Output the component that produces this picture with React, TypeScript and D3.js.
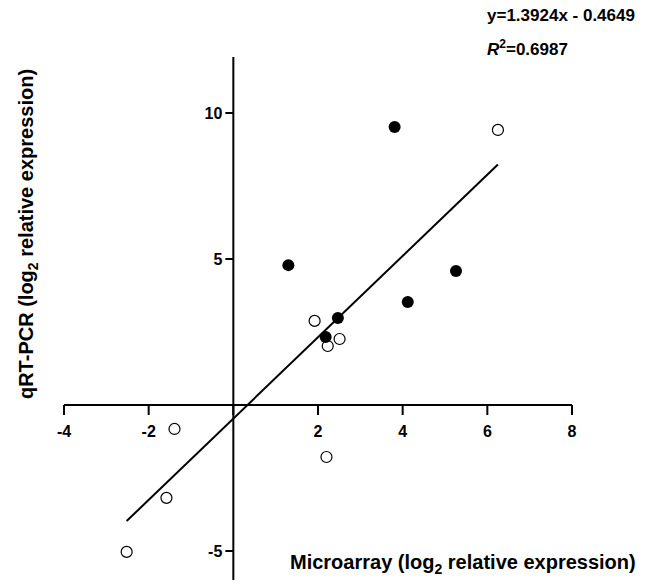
import React, { useEffect, useRef } from "react";
import * as d3 from "d3";

// filled circles
const filledX = [3.81, 1.3, 5.26, 4.12, 2.47, 2.18];
const filledY = [9.52, 4.79, 4.59, 3.53, 2.98, 2.33];

// open circles
const openX = [6.25, 1.92, 2.51, 2.23, -1.39, 2.2, -1.58, -2.52];
const openY = [9.42, 2.88, 2.26, 2.02, -0.82, -1.78, -3.18, -5.03];

const xTicks = [-4, -2, 2, 4, 6, 8];
const yTicks = [10, 5, -5];

const slope = 1.3924;
const intercept = -0.4649;
const r2Text = "=0.6987";

const FONT = "Arial, 'Liberation Sans', sans-serif";

const App = () => {
  const ref = useRef<SVGSVGElement>(null);

  useEffect(() => {
    const svg = d3.select(ref.current);
    svg.selectAll("*").remove();

    const x = d3.scaleLinear().domain([-4, 8]).range([64, 572]);
    const y = d3.scaleLinear().domain([-5, 10]).range([551, 113]);

    const g = svg.append("g");

    // x axis through y=0
    const xAxis = g.append("g").attr("transform", `translate(0,${y(0)})`);
    xAxis
      .append("line")
      .attr("x1", x(-4))
      .attr("x2", x(8))
      .attr("stroke", "#000")
      .attr("stroke-width", 2);
    xAxis
      .selectAll(".xt")
      .data([...xTicks, 0])
      .enter()
      .append("line")
      .attr("x1", (d) => x(d))
      .attr("x2", (d) => x(d))
      .attr("y1", 0)
      .attr("y2", 10)
      .attr("stroke", "#000")
      .attr("stroke-width", 2);
    xAxis
      .selectAll(".xl")
      .data(xTicks)
      .enter()
      .append("text")
      .attr("x", (d) => x(d))
      .attr("y", 32)
      .attr("text-anchor", "middle")
      .style("font-family", FONT)
      .style("font-weight", "bold")
      .style("font-size", "16px")
      .text((d) => d);

    // y axis through x=0
    const yAxis = g.append("g").attr("transform", `translate(${x(0)},0)`);
    yAxis
      .append("line")
      .attr("y1", 57)
      .attr("y2", 580)
      .attr("stroke", "#000")
      .attr("stroke-width", 2);
    yAxis
      .selectAll(".yt")
      .data(yTicks)
      .enter()
      .append("line")
      .attr("x1", -8)
      .attr("x2", 0)
      .attr("y1", (d) => y(d))
      .attr("y2", (d) => y(d))
      .attr("stroke", "#000")
      .attr("stroke-width", 2);
    yAxis
      .selectAll(".yl")
      .data(yTicks)
      .enter()
      .append("text")
      .attr("x", -11)
      .attr("y", (d) => y(d) + 6)
      .attr("text-anchor", "end")
      .style("font-family", FONT)
      .style("font-weight", "bold")
      .style("font-size", "16px")
      .text((d) => d);

    // regression line over data range
    const allX = [...filledX, ...openX];
    const [minX, maxX] = d3.extent(allX) as [number, number];
    const line = d3
      .line<number>()
      .x((d) => x(d))
      .y((d) => y(slope * d + intercept));
    g.append("path")
      .attr("d", line([minX, maxX]))
      .attr("fill", "none")
      .attr("stroke", "#000")
      .attr("stroke-width", 2);

    // points
    g.selectAll(".open")
      .data(openX.map((v, i) => [v, openY[i]]))
      .enter()
      .append("circle")
      .attr("cx", (d) => x(d[0]))
      .attr("cy", (d) => y(d[1]))
      .attr("r", 5.5)
      .attr("fill", "#fff")
      .attr("stroke", "#000")
      .attr("stroke-width", 1.2);

    g.selectAll(".filled")
      .data(filledX.map((v, i) => [v, filledY[i]]))
      .enter()
      .append("circle")
      .attr("cx", (d) => x(d[0]))
      .attr("cy", (d) => y(d[1]))
      .attr("r", 6)
      .attr("fill", "#000");

    // equation text
    g.append("text")
      .attr("x", 487)
      .attr("y", 21)
      .style("font-family", FONT)
      .style("font-weight", "bold")
      .style("font-size", "17px")
      .text(`y=${slope}x - ${Math.abs(intercept)}`);

    const r2 = g
      .append("text")
      .attr("x", 487)
      .attr("y", 55)
      .style("font-family", FONT)
      .style("font-weight", "bold")
      .style("font-size", "17px");
    r2.append("tspan").style("font-style", "italic").text("R");
    r2.append("tspan").attr("dy", -7).style("font-size", "12px").text("2");
    r2.append("tspan").attr("dy", 7).text(r2Text);

    // axis titles
    const xt = g
      .append("text")
      .attr("x", 290)
      .attr("y", 569)
      .style("font-family", FONT)
      .style("font-weight", "bold")
      .style("font-size", "20px");
    xt.append("tspan").text("Microarray (log");
    xt.append("tspan").attr("dy", 5).style("font-size", "14px").text("2");
    xt.append("tspan").attr("dy", -5).text(" relative expression)");

    const yt = g
      .append("text")
      .attr("transform", `translate(33,234) rotate(-90)`)
      .attr("text-anchor", "middle")
      .style("font-family", FONT)
      .style("font-weight", "bold")
      .style("font-size", "20px");
    yt.append("tspan").text("qRT-PCR (log");
    yt.append("tspan").attr("dy", 5).style("font-size", "14px").text("2");
    yt.append("tspan").attr("dy", -5).text(" relative expression)");
  }, []);

  return (
    <svg
      ref={ref}
      width={653}
      height={587}
      style={{ position: "absolute", left: 0, top: 0, background: "#fff" }}
    />
  );
};

export default App;
